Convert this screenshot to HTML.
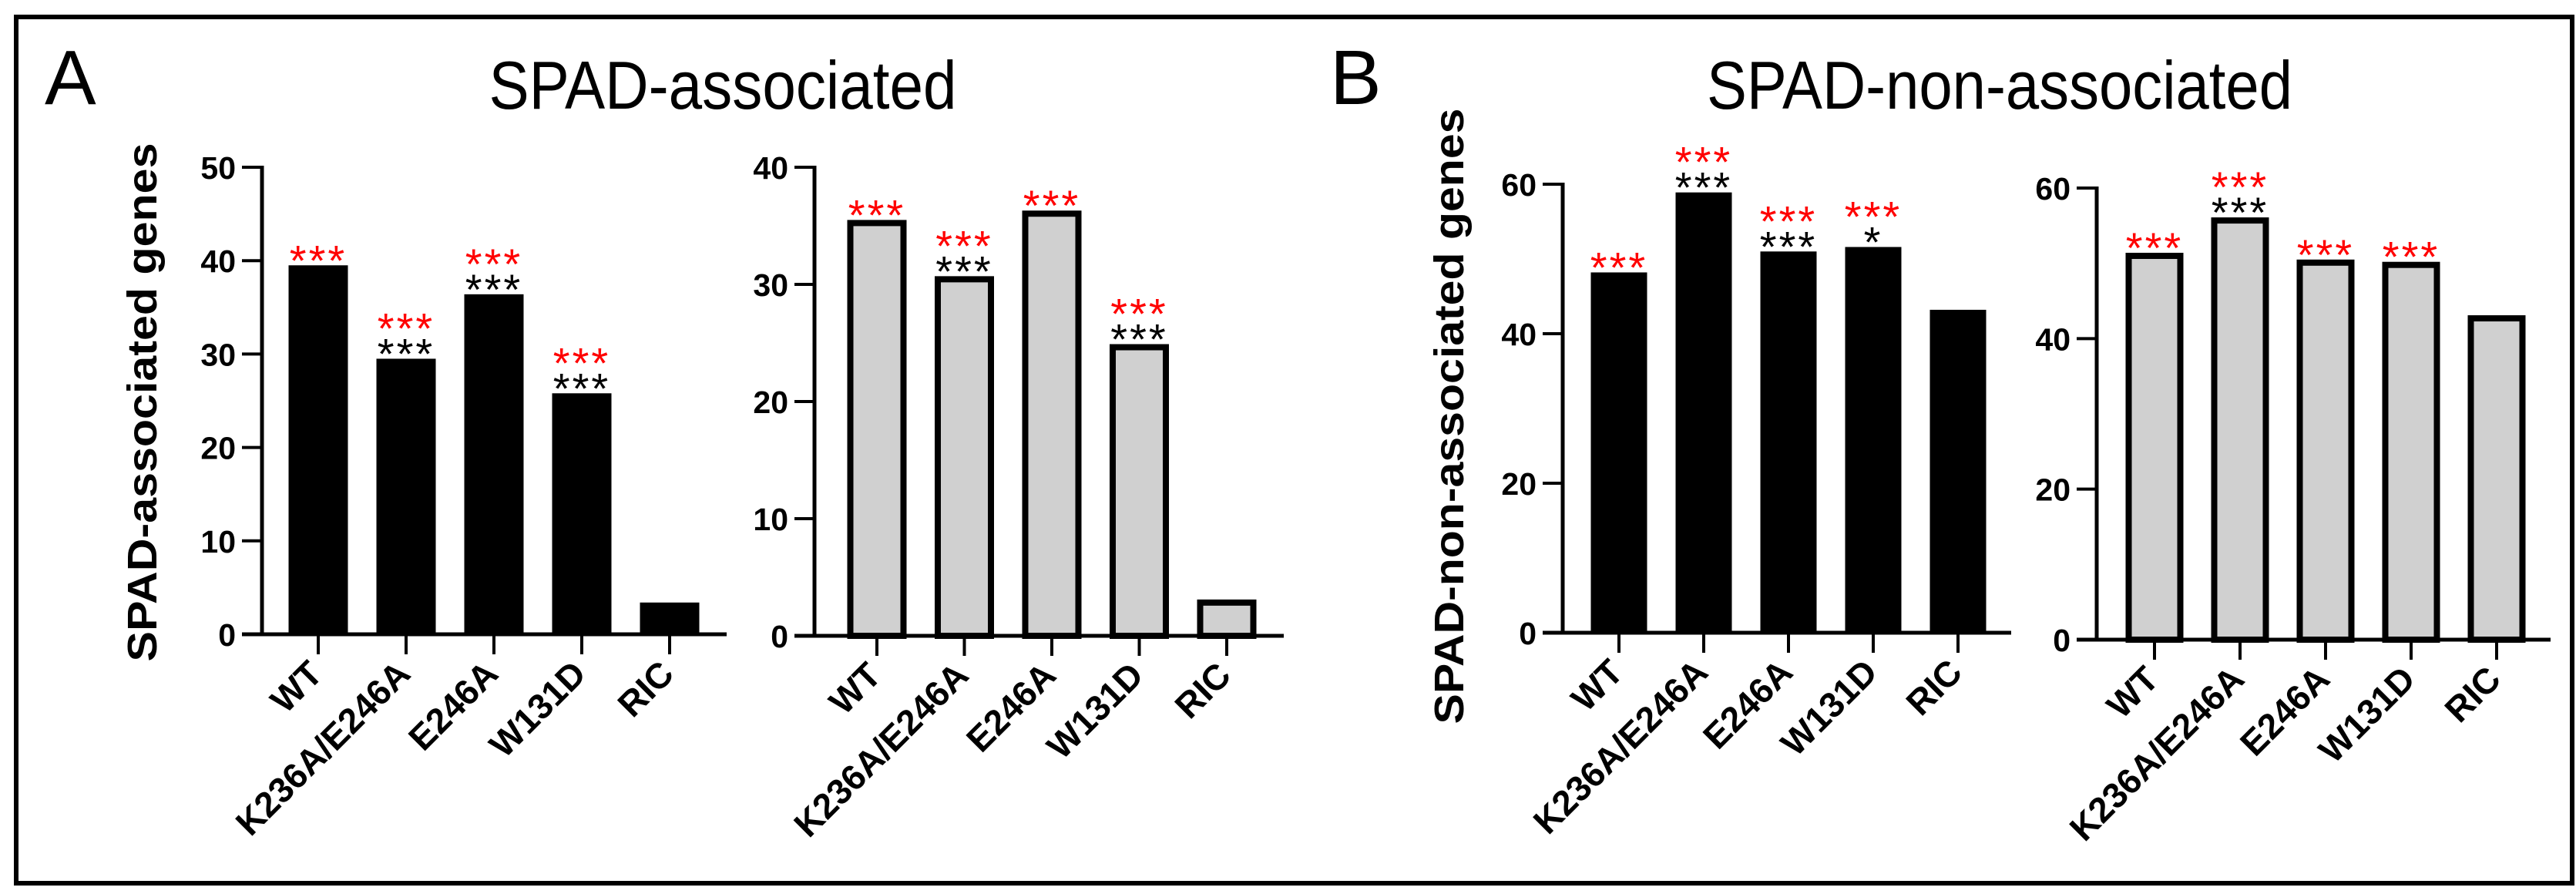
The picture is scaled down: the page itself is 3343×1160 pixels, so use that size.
<!DOCTYPE html>
<html><head><meta charset="utf-8"><style>
html,body{margin:0;padding:0;background:#fff}
svg{display:block}
text{font-family:"Liberation Sans",Arial,sans-serif}
</style></head><body>
<svg id="fig" width="3343" height="1160" viewBox="0 0 3343 1160" xmlns="http://www.w3.org/2000/svg">
<rect x="21" y="22" width="3317" height="1124" fill="none" stroke="#000" stroke-width="6"/>
<text x="58" y="135" font-size="100">A</text>
<text x="938" y="141" font-size="88" text-anchor="middle" textLength="607" lengthAdjust="spacingAndGlyphs">SPAD-associated</text>
<text x="1726" y="135" font-size="100">B</text>
<text x="2595" y="141" font-size="88" text-anchor="middle" textLength="760" lengthAdjust="spacingAndGlyphs">SPAD-non-associated</text>
<text transform="translate(203,522) rotate(-90)" font-size="54" font-weight="bold" text-anchor="middle" textLength="673" lengthAdjust="spacingAndGlyphs">SPAD-associated genes</text>
<text transform="translate(1899,540) rotate(-90)" font-size="54" font-weight="bold" text-anchor="middle" textLength="799" lengthAdjust="spacingAndGlyphs">SPAD-non-associated genes</text>
<g id="charts"></g>
</svg>
<script>
const categories = ["WT","K236A/E246A","E246A","W131D","RIC"];
const valuesA1 = [39.5, 29.5, 36.4, 25.8, 3.4];
const valuesA2 = [35.5, 30.7, 36.3, 24.9, 3.1];
const valuesB1 = [48.2, 58.9, 51.0, 51.6, 43.2];
const valuesB2 = [51.4, 56.1, 50.5, 50.2, 43.1];
const ticksA1 = [0,10,20,30,40,50];
const ticksA2 = [0,10,20,30,40];
const ticksB = [0,20,40,60];
const redStarsA1 = ["***","***","***","***",""];
const blackStarsA1 = ["","***","***","***",""];
const redStarsA2 = ["***","***","***","***",""];
const blackStarsA2 = ["","***","","***",""];
const redStarsB1 = ["***","***","***","***",""];
const blackStarsB1 = ["","***","***","*",""];
const redStarsB2 = ["***","***","***","***",""];
const blackStarsB2 = ["","***","","",""];

const NS = "http://www.w3.org/2000/svg";
const root = document.getElementById("charts");
function mk(tag, attrs, parent){
  const e = document.createElementNS(NS, tag);
  for (const k in attrs) e.setAttribute(k, attrs[k]);
  (parent||root).appendChild(e);
  return e;
}
function chart(id, cfg, vals, ticks, red, black){
  const g = mk("g", {});
  
  
  const ymax = ticks[ticks.length-1];
  const yScale = v => cfg.y0 - (v/ymax)*(cfg.y0-cfg.yTop);
  const xScale = i => cfg.x1 + i*cfg.step;
  vals.forEach((v,i)=>{
    const cx = xScale(i), top = yScale(v);
    const r = mk("rect", cfg.gray ?
      {x:cx-cfg.bw/2+4, y:top+4, width:cfg.bw-8, height:cfg.y0-top-4, fill:"#d0d0d0", stroke:"#000", "stroke-width":8} :
      {x:cx-cfg.bw/2, y:top, width:cfg.bw, height:cfg.y0-top, fill:"#000"}, g);
    
    
    let base = top + 13;
    if (black[i]) {
      const t = mk("text",{x:cx, y:base, "font-size":56, "text-anchor":"middle", fill:"#000", "letter-spacing":"3"}, g);
      t.textContent = black[i];
      
      
      base -= 33;
    }
    if (red[i]) {
      const t = mk("text",{x:cx, y:base, "font-size":56, "text-anchor":"middle", fill:"#ff0000", "letter-spacing":"3"}, g);
      t.textContent = red[i];
      
      
    }
    const tk = mk("line",{x1:cx, x2:cx, y1:cfg.y0, y2:cfg.y0+26, stroke:"#000", "stroke-width":4}, g);
    
    
    const lb = mk("text",{transform:`translate(${cx+8},${cfg.y0+54}) rotate(-45)`, "font-size":46, "font-weight":"bold", "text-anchor":"end"}, g);
    lb.textContent = categories[i];
    
    
  });
  const ya = mk("line",{x1:cfg.ax, x2:cfg.ax, y1:yScale(ymax)-2, y2:cfg.y0+2, stroke:"#000", "stroke-width":5}, g);
  
  
  const xa = mk("line",{x1:cfg.ax-26, x2:cfg.xEnd, y1:cfg.y0, y2:cfg.y0, stroke:"#000", "stroke-width":5}, g);
  
  
  ticks.forEach(t=>{
    const y = yScale(t);
    const l = mk("line",{x1:cfg.ax-26, x2:cfg.ax, y1:y, y2:y, stroke:"#000", "stroke-width":4}, g);
    
    
    const tx = mk("text",{x:cfg.ax-34, y:y+15, "font-size":41, "font-weight":"bold", "text-anchor":"end"}, g);
    tx.textContent = t;
    
    
  });
}
chart("chart-a-black", {ax:340, y0:823, yTop:217, x1:413, step:114, bw:77, xEnd:943, gray:false}, valuesA1, ticksA1, redStarsA1, blackStarsA1);
chart("chart-a-gray", {ax:1057, y0:825, yTop:217, x1:1138, step:113.5, bw:77, xEnd:1666, gray:true}, valuesA2, ticksA2, redStarsA2, blackStarsA2);
chart("chart-b-black", {ax:2028, y0:821, yTop:239, x1:2101, step:110, bw:73, xEnd:2610, gray:false}, valuesB1, ticksB, redStarsB1, blackStarsB1);
chart("chart-b-gray", {ax:2721, y0:830, yTop:244, x1:2796, step:111, bw:75, xEnd:3310, gray:true}, valuesB2, ticksB, redStarsB2, blackStarsB2);
</script>
</body></html>
